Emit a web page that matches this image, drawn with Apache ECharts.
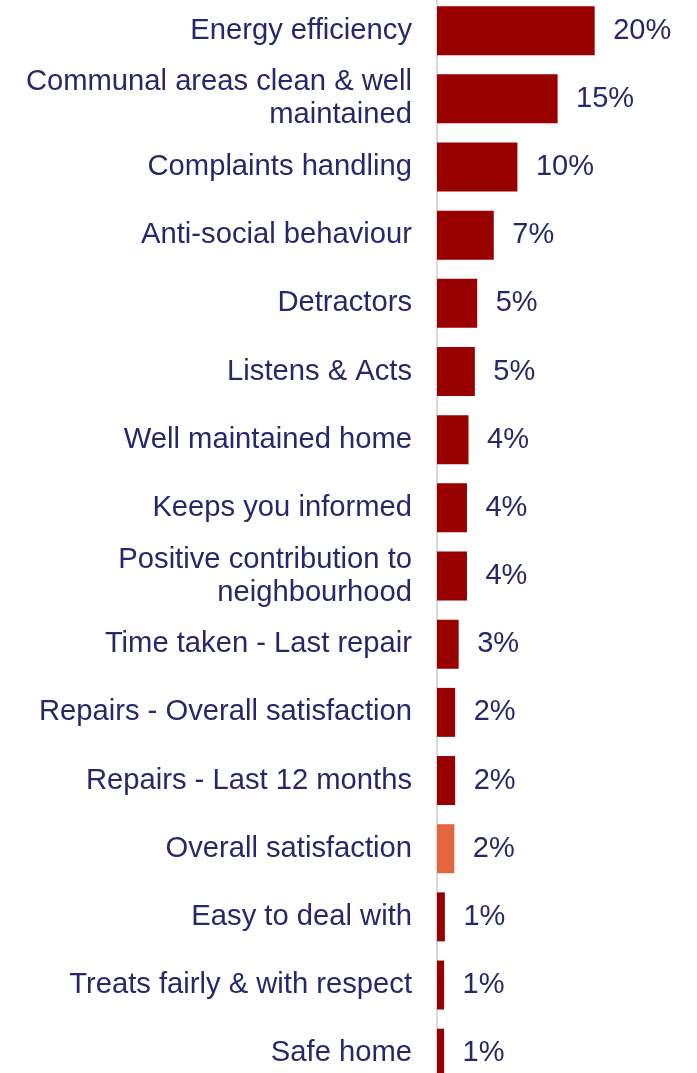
<!DOCTYPE html>
<html>
<head>
<meta charset="utf-8">
<script src="https://cdn.jsdelivr.net/npm/echarts@6/dist/echarts.min.js"></script>
<style>
  html, body { margin: 0; padding: 0; background: #ffffff; }
  #chart { width: 697px; height: 1073px; }
</style>
</head>
<body>
<div id="chart"></div>
<script>
// Drivers of satisfaction, share of importance (%)
const categories = [
  'Energy efficiency',
  'Communal areas clean & well\nmaintained',
  'Complaints handling',
  'Anti-social behaviour',
  'Detractors',
  'Listens & Acts',
  'Well maintained home',
  'Keeps you informed',
  'Positive contribution to\nneighbourhood',
  'Time taken - Last repair',
  'Repairs - Overall satisfaction',
  'Repairs - Last 12 months',
  'Overall satisfaction',
  'Easy to deal with',
  'Treats fairly & with respect',
  'Safe home'
];
const shares = [20.0, 15.3, 10.2, 7.2, 5.1, 4.8, 4.0, 3.8, 3.8, 2.75, 2.3, 2.3, 2.2, 1.0, 0.9, 0.9];
const highlighted = 'Overall satisfaction';

const BAR_RED = '#990000';
const BAR_HIGHLIGHT = '#e3663f';
const TEXT_NAVY = '#28276b';
const FONT = '"Liberation Sans", Arial, sans-serif';

const chart = echarts.init(document.getElementById('chart'), null, { renderer: 'canvas' });

chart.setOption({
  animation: false,
  backgroundColor: '#ffffff',
  grid: {
    left: 437, right: 23.5, top: -3.4, height: 1090.7,
    containLabel: false,
    outerBoundsMode: 'none'
  },
  xAxis: {
    type: 'value',
    min: 0,
    max: 30,
    show: false
  },
  yAxis: {
    type: 'category',
    data: categories,
    inverse: true,
    axisLine: { show: true, lineStyle: { color: '#d9d9d9', width: 2 } },
    axisTick: { show: false },
    axisLabel: {
      color: TEXT_NAVY,
      fontFamily: FONT,
      fontSize: 29.2,
      lineHeight: 33,
      margin: 25,
      align: 'right',
      padding: [5, 0, 0, 0]
    }
  },
  series: [{
    type: 'bar',
    barWidth: 49,
    data: shares.map((v, i) => ({
      value: v,
      itemStyle: { color: categories[i] === highlighted ? BAR_HIGHLIGHT : BAR_RED }
    })),
    label: {
      show: true,
      position: 'right',
      distance: 18.5,
      color: TEXT_NAVY,
      fontFamily: FONT,
      fontSize: 29,
      padding: [5, 0, 0, 0],
      formatter: p => Math.round(p.value) + '%'
    }
  }]
});
</script>
</body>
</html>
